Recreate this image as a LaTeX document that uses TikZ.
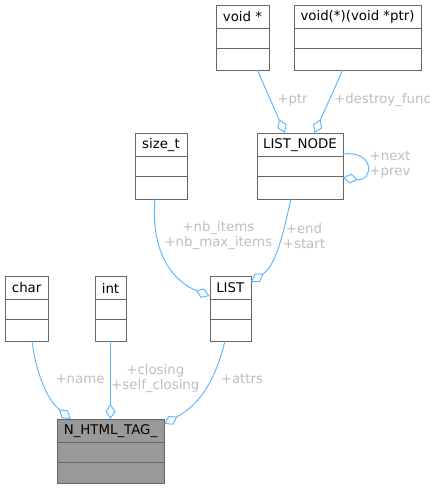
\documentclass[tikz,border=0pt]{standalone}
\usepackage{fontspec}
\setmainfont{DejaVu Sans}
\usetikzlibrary{arrows.meta}
\definecolor{edgeblue}{HTML}{63B8FF}
\definecolor{lblgray}{HTML}{BEBEBE}
\definecolor{boxgray}{HTML}{666666}
\definecolor{mainfill}{HTML}{999999}
\tikzset{
  classbox/.style={draw=boxgray, line width=1pt, inner sep=0pt, anchor=north west},
  classtitle/.style={inner sep=0pt, font=\fontsize{13.33}{15}\selectfont, text=black},
  agg/.style={draw=edgeblue, line width=1pt, -{Diamond[open, length=15pt, width=10pt, line width=1pt]}},
  elabel/.style={text=lblgray, font=\fontsize{13.33}{15}\selectfont, align=center, inner sep=0pt}
}
\newcommand{\umlcls}[7]{%
  % #1 name, #2 x1, #3 y1, #4 x2, #5 y2, #6 title, #7 fill
  \node[classbox, fill=#7, minimum width=#4pt-#2pt, minimum height=#5pt-#3pt] (#1) at (#2,#3) {};
  \draw[boxgray, line width=1pt] (#2,#3+23.5) -- (#4,#3+23.5);
  \draw[boxgray, line width=1pt] (#2,#3+43.5) -- (#4,#3+43.5);
  \node[classtitle] (#1-t) at ({(#2+#4)/2},#3+12) {#6};
}
\begin{document}
\begin{tikzpicture}[x=1pt,y=-1pt]
\useasboundingbox (0,0) rectangle (436,489);
\umlcls{voidp}{216}{5}{269}{70}{void *}{white}
\umlcls{vfunc}{294}{5}{421}{70}{void(*)(void *ptr)}{white}
\umlcls{lnode}{257}{133}{343}{198.5}{LIST\_NODE}{white}
\umlcls{sizet}{135}{133}{187}{198.5}{size\_t}{white}
\umlcls{list}{209.5}{276}{251}{341}{LIST}{white}
\umlcls{char}{5}{276}{48.3}{341}{char}{white}
\umlcls{int}{95}{276}{126}{341}{int}{white}
\umlcls{tag}{56.7}{419}{164.3}{483.3}{N\_HTML\_TAG\_}{mainfill}

\coordinate (a1) at (257.3,70);
\coordinate (a2) at (285,133);
\draw[agg] (a1) -- (a2);
\coordinate (b1) at (342.7,70);
\coordinate (b2) at (314.5,133);
\draw[agg] (b1) -- (b2);
\coordinate (c1) at (343,154);
\coordinate (c2) at (343,177.5);
\draw[agg] (c1) .. controls (375,150) and (374,182) .. (c2);
\coordinate (d1) at (155,198.5);
\coordinate (d2) at (209.5,296);
\draw[agg] (d1) .. controls (150,255) and (175,282) .. (d2);
\coordinate (e1) at (291,198.5);
\coordinate (e2) at (251,282);
\draw[agg] (e1) .. controls (282,240) and (275,266) .. (e2);
\coordinate (f1) at (32,341);
\coordinate (f2) at (70.5,419);
\draw[agg] (f1) .. controls (37,380) and (50,402) .. (f2);
\coordinate (g1) at (110.5,341);
\coordinate (g2) at (110.5,419);
\draw[agg] (g1) -- (g2);
\coordinate (h1) at (225,341);
\coordinate (h2) at (164.3,424);
\draw[agg] (h1) .. controls (214,385) and (198,405) .. (h2);

\node[elabel] (lptr) at (292.5,100) {+ptr};
\node[elabel] (ldf) at (382.5,100) {+destroy\_func};
\node[elabel] (lnp) at (390,164.5) {+next\\+prev};
\node[elabel] (lnb) at (218.3,236) {+nb\_items\\+nb\_max\_items};
\node[elabel] (les) at (304,236) {+end\\+start};
\node[elabel] (lname) at (80,379) {+name};
\node[elabel] (lcl) at (155.3,378.5) {+closing\\+self\_closing};
\node[elabel] (latt) at (242,379) {+attrs};
\end{tikzpicture}
\end{document}
